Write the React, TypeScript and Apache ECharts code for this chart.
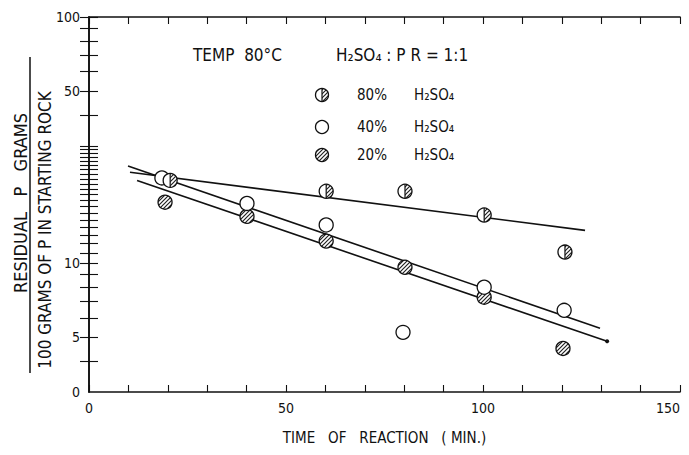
import React, { useEffect, useRef } from "react";
import * as echarts from "echarts";

// ---- data ----
const TIME_80 = [20.6, 60.2, 80.2, 100.3, 120.8];
const RESID_80 = [21.7, 19.6, 19.6, 15.7, 11.1];
const TIME_40 = [18.5, 40.1, 60.2, 79.7, 100.3, 120.6];
const RESID_40 = [22.2, 17.5, 14.3, 5.24, 7.99, 6.44];
const TIME_20 = [19.3, 40.1, 60.2, 80.2, 100.3, 120.3];
const RESID_20 = [17.7, 15.5, 12.3, 9.63, 7.28, 4.51];

const FIT_80_T = [10.4, 125.9];
const FIT_80_R = [23.4, 13.6];
const FIT_40_T = [9.9, 129.7];
const FIT_40_R = [24.8, 5.45];
const FIT_20_T = [12.2, 131.5];
const FIT_20_R = [21.7, 4.82];

const Y_MIN = 3;
const Y_MAX = 100;
const Y_LABEL_VALUES = [3, 5, 10, 50, 100];
const Y_LABEL_TEXTS = ["0", "5", "10", "50", "100"];
const Y_TICK_VALUES = [
  4, 5, 6, 7, 8, 9, 10, 11, 12, 13, 14, 15, 16, 17, 18, 19, 20, 21, 22, 23, 24,
  25, 26, 27, 28, 29, 30, 40, 50, 60, 70, 80, 90, 100,
];
const X_LABEL_VALUES = [0, 50, 100, 150];

const FONT = "'DejaVu Sans Condensed', 'DejaVu Sans', sans-serif";
const INK = "#111";

const L = (v: number) => Math.log10(v);

function makeHatch() {
  const c = document.createElement("canvas");
  c.width = 4;
  c.height = 4;
  const ctx = c.getContext("2d")!;
  ctx.fillStyle = "#fff";
  ctx.fillRect(0, 0, 4, 4);
  ctx.strokeStyle = "#222";
  ctx.lineWidth = 1.2;
  ctx.beginPath();
  ctx.moveTo(-1, 5);
  ctx.lineTo(5, -1);
  ctx.moveTo(-1, 1);
  ctx.lineTo(1, -1);
  ctx.moveTo(3, 5);
  ctx.lineTo(5, 3);
  ctx.stroke();
  return { image: c, repeat: "repeat", imageWidth: 4, imageHeight: 4 } as any;
}

export default function App() {
  const ref = useRef<HTMLDivElement>(null);

  useEffect(() => {
    if (!ref.current) return;
    const chart = echarts.init(ref.current, undefined, { renderer: "svg" });
    const hatch = makeHatch();
    const R = 7;

    const yAxisBase = (pos: "left" | "right", labels: boolean) => ({
      type: "value",
      position: pos,
      min: L(Y_MIN),
      max: L(Y_MAX),
      axisLine: { show: true, lineStyle: { color: INK, width: 1.6 } },
      axisTick: {
        show: true,
        inside: true,
        length: 9,
        customValues: Y_TICK_VALUES.map(L),
        lineStyle: { color: INK, width: 1.1 },
      },
      axisLabel: labels
        ? {
            show: true,
            customValues: Y_LABEL_VALUES.map(L),
            formatter: (v: number) => {
              let best = 0;
              Y_LABEL_VALUES.forEach((lv, i) => {
                if (Math.abs(L(lv) - v) < Math.abs(L(Y_LABEL_VALUES[best]) - v)) best = i;
              });
              return Y_LABEL_TEXTS[best];
            },
            color: INK,
            fontSize: 14,
            fontFamily: FONT,
            margin: 9,
          }
        : { show: false },
      splitLine: { show: false },
    });

    const xAxisBase = (pos: "bottom" | "top", labels: boolean) => ({
      type: "value",
      position: pos,
      min: 0,
      max: 150,
      interval: 10,
      axisLine: { show: true, lineStyle: { color: INK, width: 1.6 } },
      axisTick: { show: true, inside: true, length: 7, lineStyle: { color: INK, width: 1.1 } },
      axisLabel: labels
        ? {
            show: true,
            customValues: X_LABEL_VALUES,
            alignMaxLabel: "right",
            color: INK,
            fontSize: 14,
            fontFamily: FONT,
            margin: 9,
          }
        : { show: false },
      splitLine: { show: false },
      ...(labels
        ? {
            name: "TIME   OF   REACTION   ( MIN.)",
            nameLocation: "middle",
            nameGap: 38,
            nameTextStyle: { color: INK, fontSize: 15, fontFamily: FONT },
          }
        : {}),
    });

    const fitLine = (ts: number[], rs: number[], endDot: boolean) => ({
      type: "line",
      xAxisIndex: 0,
      yAxisIndex: 0,
      data: ts.map((t, i) =>
        endDot && i === ts.length - 1
          ? { value: [t, L(rs[i])], symbol: "circle", symbolSize: 4 }
          : { value: [t, L(rs[i])], symbol: "none" }
      ),
      showSymbol: true,
      symbol: "none",
      lineStyle: { color: INK, width: 1.6 },
      itemStyle: { color: INK },
      silent: true,
      z: 2,
    });

    const halfSymbol = (cx: number, cy: number, r: number) => ({
      type: "group",
      children: [
        { type: "circle", shape: { cx, cy, r }, style: { fill: "#fff", stroke: "none" } },
        {
          type: "sector",
          shape: { cx, cy, r, r0: 0, startAngle: -Math.PI / 2, endAngle: Math.PI / 2, clockwise: true },
          style: { fill: hatch, stroke: "none" },
        },
        { type: "line", shape: { x1: cx, y1: cy - r, x2: cx, y2: cy + r }, style: { stroke: INK, lineWidth: 1.2 } },
        { type: "circle", shape: { cx, cy, r }, style: { fill: "none", stroke: INK, lineWidth: 1.3 } },
      ],
    });

    const hatchSymbol = (cx: number, cy: number, r: number) => ({
      type: "circle",
      shape: { cx, cy, r },
      style: { fill: hatch, stroke: INK, lineWidth: 1.3 },
    });

    const option: any = {
      animation: false,
      backgroundColor: "#fff",
      grid: { left: 89, right: 9, top: 17, bottom: 63, outerBoundsMode: "none" },
      xAxis: [xAxisBase("bottom", true), xAxisBase("top", false)],
      yAxis: [yAxisBase("left", true), yAxisBase("right", false)],
      series: [
        fitLine(FIT_80_T, FIT_80_R, false),
        fitLine(FIT_40_T, FIT_40_R, false),
        fitLine(FIT_20_T, FIT_20_R, true),
        {
          type: "scatter",
          name: "40%",
          data: TIME_40.map((t, i) => [t, L(RESID_40[i])]),
          symbol: "circle",
          symbolSize: R * 2,
          itemStyle: { color: "#fff", borderColor: INK, borderWidth: 1.3, opacity: 1 },
          z: 3,
        },
        {
          type: "custom",
          name: "20%",
          data: TIME_20.map((t, i) => [t, L(RESID_20[i])]),
          renderItem: (params: any, api: any) => {
            const p = api.coord([api.value(0), api.value(1)]);
            return hatchSymbol(p[0], p[1], R);
          },
          z: 3,
        },
        {
          type: "custom",
          name: "80%",
          data: TIME_80.map((t, i) => [t, L(RESID_80[i])]),
          renderItem: (params: any, api: any) => {
            const p = api.coord([api.value(0), api.value(1)]);
            return halfSymbol(p[0], p[1], R);
          },
          z: 4,
        },
      ],
      graphic: [
        // y-axis title (fraction)
        {
          type: "text",
          x: 20,
          y: 203,
          rotation: Math.PI / 2,
          style: {
            text: "RESIDUAL   P   GRAMS",
            fontSize: 18,
            fontFamily: FONT,
            fill: INK,
            align: "center",
            verticalAlign: "middle",
          },
        },
        {
          type: "line",
          shape: { x1: 30, y1: 57, x2: 30, y2: 373 },
          style: { stroke: INK, lineWidth: 1.5 },
        },
        {
          type: "text",
          x: 45,
          y: 230,
          rotation: Math.PI / 2,
          style: {
            text: "100 GRAMS OF P IN STARTING ROCK",
            fontSize: 17,
            fontFamily: FONT,
            fill: INK,
            align: "center",
            verticalAlign: "middle",
          },
        },
        // annotations
        {
          type: "text",
          x: 193,
          y: 55,
          style: { text: "TEMP  80°C", fontSize: 17, fontFamily: FONT, fill: INK, verticalAlign: "middle" },
        },
        {
          type: "text",
          x: 336,
          y: 55,
          style: { text: "H₂SO₄ : P R = 1:1", fontSize: 17, fontFamily: FONT, fill: INK, verticalAlign: "middle" },
        },
        // legend
        halfSymbol(322, 95, 6.5),
        {
          type: "circle",
          shape: { cx: 322, cy: 127, r: 6.5 },
          style: { fill: "#fff", stroke: INK, lineWidth: 1.3 },
        },
        hatchSymbol(322, 155, 6.5),
        { type: "text", x: 357, y: 95, style: { text: "80%", fontSize: 15, fontFamily: FONT, fill: INK, verticalAlign: "middle" } },
        { type: "text", x: 357, y: 127, style: { text: "40%", fontSize: 15, fontFamily: FONT, fill: INK, verticalAlign: "middle" } },
        { type: "text", x: 357, y: 155, style: { text: "20%", fontSize: 15, fontFamily: FONT, fill: INK, verticalAlign: "middle" } },
        { type: "text", x: 414, y: 95, style: { text: "H₂SO₄", fontSize: 15, fontFamily: FONT, fill: INK, verticalAlign: "middle" } },
        { type: "text", x: 414, y: 127, style: { text: "H₂SO₄", fontSize: 15, fontFamily: FONT, fill: INK, verticalAlign: "middle" } },
        { type: "text", x: 414, y: 155, style: { text: "H₂SO₄", fontSize: 15, fontFamily: FONT, fill: INK, verticalAlign: "middle" } },
      ],
    };

    chart.setOption(option);
    return () => chart.dispose();
  }, []);

  return (
    <div
      ref={ref}
      style={{ position: "fixed", left: 0, top: 0, width: 689, height: 455, background: "#fff" }}
    />
  );
}
